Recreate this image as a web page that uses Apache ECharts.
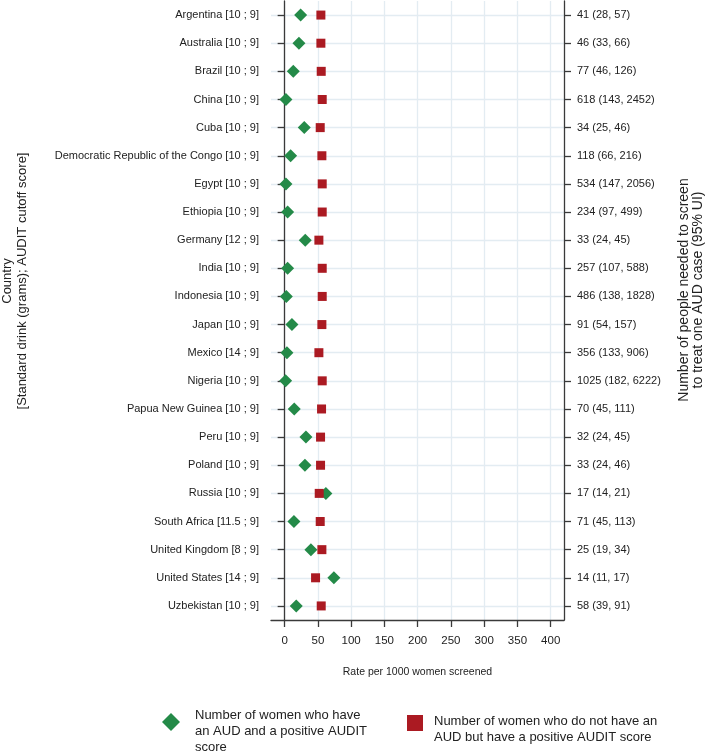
<!DOCTYPE html>
<html>
<head>
<meta charset="utf-8">
<script src="https://cdn.jsdelivr.net/npm/echarts@6/dist/echarts.min.js"></script>
<style>html,body{margin:0;padding:0;background:#fff}#c{width:709px;height:753px}</style>
</head>
<body>
<div id="c"></div>
<script>
const countries = [
  "Argentina [10 ; 9]", "Australia [10 ; 9]", "Brazil [10 ; 9]", "China [10 ; 9]", "Cuba [10 ; 9]",
  "Democratic Republic of the Congo [10 ; 9]", "Egypt [10 ; 9]", "Ethiopia [10 ; 9]", "Germany [12 ; 9]",
  "India [10 ; 9]", "Indonesia [10 ; 9]", "Japan [10 ; 9]", "Mexico [14 ; 9]", "Nigeria [10 ; 9]",
  "Papua New Guinea [10 ; 9]", "Peru [10 ; 9]", "Poland [10 ; 9]", "Russia [10 ; 9]",
  "South Africa [11.5 ; 9]", "United Kingdom [8 ; 9]", "United States [14 ; 9]", "Uzbekistan [10 ; 9]"
];
const nntLabels = [
  "41 (28, 57)", "46 (33, 66)", "77 (46, 126)", "618 (143, 2452)", "34 (25, 46)",
  "118 (66, 216)", "534 (147, 2056)", "234 (97, 499)", "33 (24, 45)", "257 (107, 588)",
  "486 (138, 1828)", "91 (54, 157)", "356 (133, 906)", "1025 (182, 6222)", "70 (45, 111)",
  "32 (24, 45)", "33 (24, 46)", "17 (14, 21)", "71 (45, 113)", "25 (19, 34)", "14 (11, 17)", "58 (39, 91)"
];
// Number of women who have an AUD and a positive AUDIT score (per 1000 screened)
const truePositive = [24, 21.5, 13, 2, 29.5, 9, 2, 4.5, 31, 4.5, 2.5, 11, 3.5, 1.5, 14.5, 32, 30.5, 62, 14, 39.5, 74, 17.5];
// Number of women who do not have an AUD but have a positive AUDIT score (per 1000 screened)
const falsePositive = [54.5, 54.5, 55, 56.5, 53.5, 56, 56.5, 56.5, 51.5, 56.5, 56.5, 56, 51.5, 56.5, 55.5, 54, 54, 52, 53.5, 56, 46.5, 55];
const xTicks = [0, 50, 100, 150, 200, 250, 300, 350, 400];

const nameGreen = "Number of women who have\nan AUD and a positive AUDIT\nscore";
const nameRed = "Number of women who do not have an\nAUD but have a positive AUDIT score";

const FONT = "'Liberation Sans', Arial, sans-serif";
const axisColor = '#3a3a3a';
const gridColor = '#e3ecf2';
const GREEN = '#248a48';
const RED = '#ab1a22';

const chart = echarts.init(document.getElementById('c'), null, {renderer: 'canvas'});
chart.setOption({
  animation: false,
  backgroundColor: '#fff',
  grid: {left: 271, right: 145, top: 1, bottom: 133, containLabel: false},
  xAxis: {
    type: 'value', min: -20.5, max: 420,
    name: 'Rate per 1000 women screened', nameLocation: 'middle', nameGap: 47,
    nameTextStyle: {fontFamily: FONT, fontSize: 10.5, color: '#222'},
    axisLine: {show: true, lineStyle: {color: axisColor, width: 1.3}},
    axisTick: {show: true, length: 7, customValues: xTicks, lineStyle: {color: axisColor, width: 1.3}},
    axisLabel: {customValues: xTicks, fontFamily: FONT, fontSize: 11.5, color: '#222', margin: 15},
    splitLine: {show: true, lineStyle: {color: gridColor, width: 1.3}}
  },
  yAxis: [{
    type: 'category', inverse: true, data: countries,
    axisLine: {show: true, lineStyle: {color: axisColor, width: 1.3}},
    axisTick: {show: true, alignWithLabel: true, length: 7, lineStyle: {color: axisColor, width: 1.3}},
    axisLabel: {fontFamily: FONT, fontSize: 11, color: '#222', margin: 12},
    splitLine: {show: true, alignWithLabel: true, lineStyle: {color: gridColor, width: 1.3}}
  }, {
    type: 'category', inverse: true, position: 'right', data: nntLabels,
    axisLine: {show: true, lineStyle: {color: axisColor, width: 1.3}},
    axisTick: {show: true, alignWithLabel: true, length: 7, lineStyle: {color: axisColor, width: 1.3}},
    axisLabel: {fontFamily: FONT, fontSize: 11, color: '#222', margin: 13},
    splitLine: {show: false}
  }],
  legend: [{
    data: [{name: nameGreen, icon: 'path://M9,0 L18,9 L9,18 L0,9 Z M28,36'}],
    left: 162, top: 707, padding: 0, itemWidth: 28, itemHeight: 36, itemGap: 0, selectedMode: false,
    itemStyle: {color: GREEN, opacity: 1},
    textStyle: {fontFamily: FONT, fontSize: 13, color: '#222', lineHeight: 16}
  }, {
    data: [{name: nameRed, icon: 'path://M0,0 L16,0 L16,16 L0,16 Z M22,28'}],
    left: 407, top: 713, padding: 0, itemWidth: 22, itemHeight: 28, itemGap: 0, selectedMode: false,
    itemStyle: {color: RED, opacity: 1},
    textStyle: {fontFamily: FONT, fontSize: 13, color: '#222', lineHeight: 16}
  }],
  graphic: [{
    type: 'text', x: 15, y: 281, rotation: Math.PI / 2,
    style: {text: 'Country\n[Standard drink (grams); AUDIT cutoff score]', fontFamily: FONT, fontSize: 13,
      lineHeight: 15, fill: '#222', align: 'center', verticalAlign: 'middle'}
  }, {
    type: 'text', x: 691, y: 290, rotation: Math.PI / 2,
    style: {text: 'Number of people needed to screen\nto treat one AUD case (95% UI)', fontFamily: FONT, fontSize: 14,
      lineHeight: 14, fill: '#222', align: 'center', verticalAlign: 'middle'}
  }],
  series: [{
    name: nameGreen, type: 'scatter', symbol: 'diamond', symbolSize: 13,
    itemStyle: {color: GREEN, opacity: 1},
    data: truePositive.map((v, i) => [v, i]), z: 3
  }, {
    name: nameRed, type: 'scatter', symbol: 'rect', symbolSize: 9,
    itemStyle: {color: RED, opacity: 1},
    data: falsePositive.map((v, i) => [v, i]), z: 4
  }]
});
</script>
</body>
</html>
